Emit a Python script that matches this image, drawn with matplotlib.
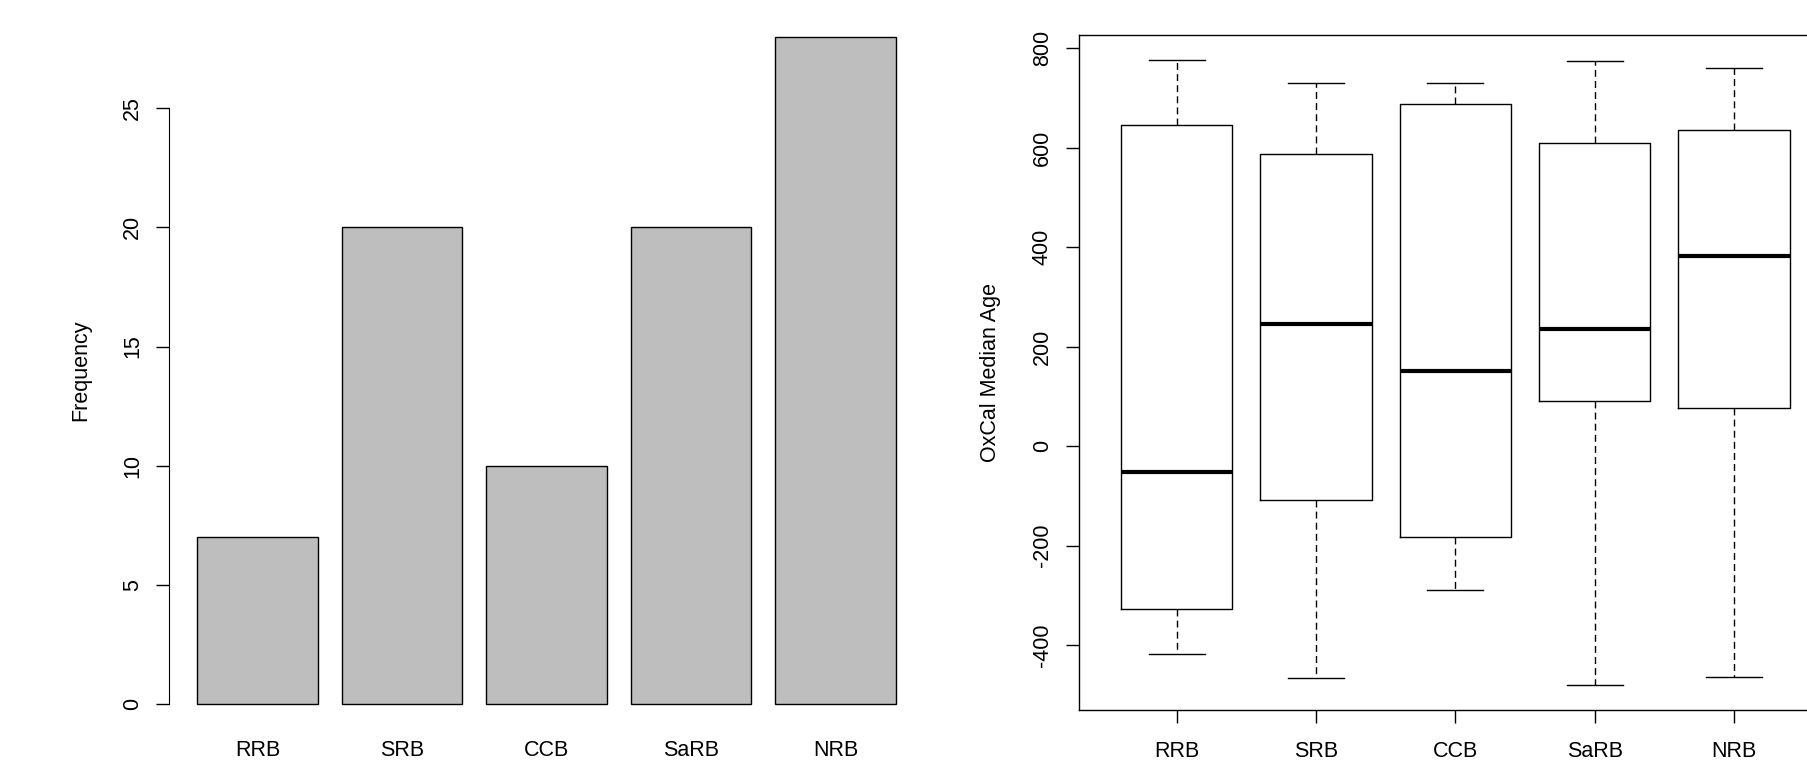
import matplotlib
matplotlib.use("Agg")
import matplotlib.pyplot as plt

plt.rcParams["font.family"] = ["Liberation Sans", "DejaVu Sans"]
plt.rcParams["font.size"] = 15.5
plt.rcParams["axes.unicode_minus"] = False

# data
basins = ["RRB", "SRB", "CCB", "SaRB", "NRB"]
freq = [7, 20, 10, 20, 28]

# OxCal median age box stats per basin
whisk_lo = [-418, -466, -288, -480, -464]
q1 = [-328, -109, -183, 91, 77]
median = [-51, 245, 151, 236, 383]
q3 = [646, 588, 688, 610, 635]
whisk_hi = [777, 731, 731, 775, 761]

fig = plt.figure(figsize=(18.07, 7.62), dpi=100)

###barplot (R style: width 1, space 0.2)
ax1 = fig.add_axes([0.09375, 0.04068, 0.41738, 0.94646])
xs = [0.2 + 1.2 * i + 0.5 for i in range(len(basins))]
ax1.bar(xs, freq, width=1.0, color="#bebebe", edgecolor="black", linewidth=1.0)
span = xs[-1] + 0.5 - (xs[0] - 0.5)
ax1.set_xlim(xs[0] - 0.5 - 0.04 * span, xs[-1] + 0.5 + 0.04 * span)
ymax = max(freq)
ax1.set_ylim(-0.04 * ymax, ymax * 1.04)
ax1.set_xticks(xs)
ax1.set_xticklabels(basins)
ax1.set_yticks([0, 5, 10, 15, 20, 25])
for s in ["top", "right", "bottom"]:
    ax1.spines[s].set_visible(False)
ax1.spines["left"].set_bounds(0, 25)
ax1.tick_params(axis="x", length=0, pad=6.8)
ax1.tick_params(axis="y", length=9.4, width=1, pad=9.7)
plt.setp(ax1.get_yticklabels(), rotation=90, va="center")
ax1.set_ylabel("Frequency")
ax1.yaxis.set_label_coords(-0.104, 0.5)

###boxplot
ax2 = fig.add_axes([0.59723, 0.0682, 0.41632, 0.8863])
stats = []
for i, name in enumerate(basins):
    stats.append({"label": name, "whislo": whisk_lo[i], "q1": q1[i],
                  "med": median[i], "q3": q3[i], "whishi": whisk_hi[i],
                  "fliers": []})
pos = list(range(1, len(basins) + 1))
ax2.bxp(stats, positions=pos, widths=0.8, showfliers=False,
        boxprops=dict(color="black", linewidth=1.0),
        whiskerprops=dict(color="black", linewidth=1.0, linestyle=(0, (5, 3))),
        capprops=dict(color="black", linewidth=1.0),
        medianprops=dict(color="black", linewidth=3.0, solid_capstyle="butt"),
        capwidths=0.4)
lo, hi = min(whisk_lo), max(whisk_hi)
rng = hi - lo
ax2.set_ylim(lo - 0.04 * rng, hi + 0.04 * rng)
ax2.set_xlim(0.3, len(basins) + 0.7)
ax2.set_xticks(pos)
ax2.set_xticklabels(basins)
ax2.set_yticks(range(-400, 801, 200))
for s in ax2.spines.values():
    s.set_linewidth(1.0)
ax2.tick_params(axis="x", length=9.2, width=1, pad=13.2)
ax2.tick_params(axis="y", length=9.4, width=1, pad=9.7)
plt.setp(ax2.get_yticklabels(), rotation=90, va="center")
ax2.set_ylabel("OxCal Median Age")
ax2.yaxis.set_label_coords(-0.104, 0.5)

fig.savefig("out.png", dpi=100)
